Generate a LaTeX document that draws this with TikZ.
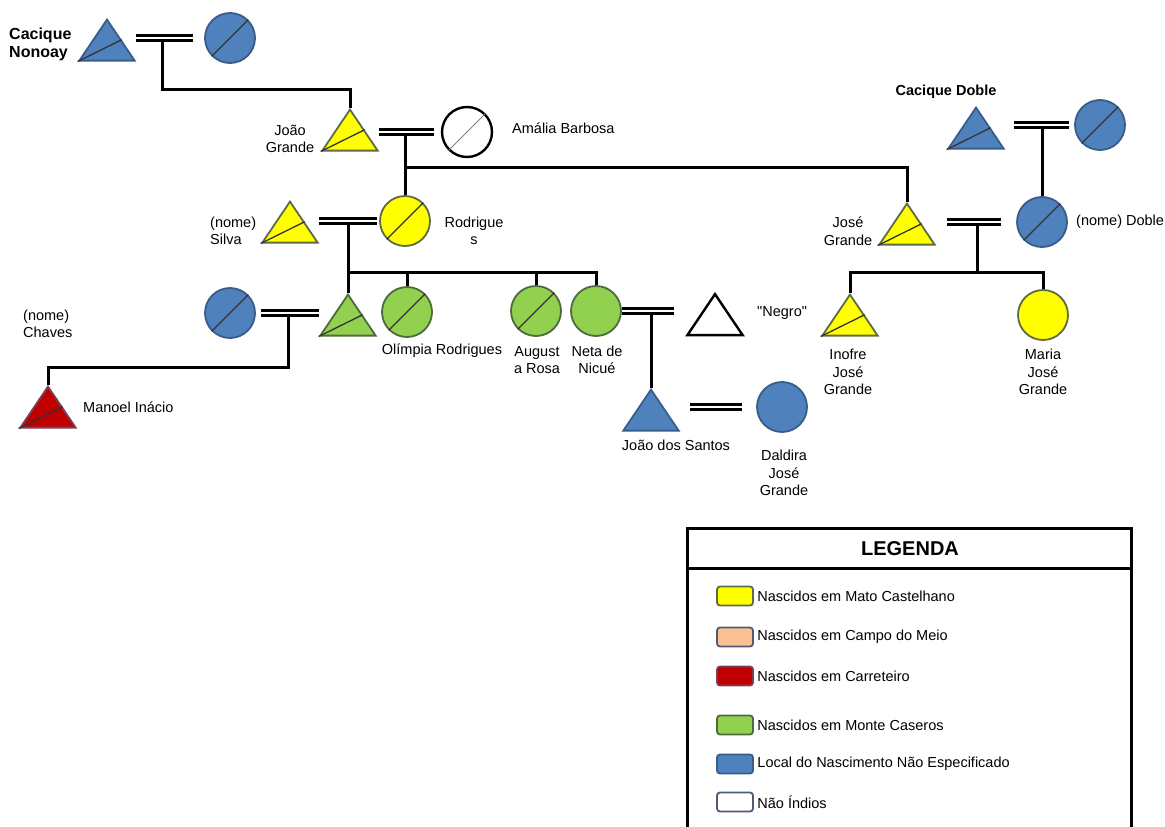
\documentclass[tikz,border=0pt]{standalone}
\usepackage{fontspec}
\setmainfont{Liberation Sans}
\usetikzlibrary{calc, positioning, shapes.geometric}

\definecolor{azul}{HTML}{4F81BD}
\definecolor{azulborda}{HTML}{385D8A}
\definecolor{amarelo}{HTML}{FFFF00}
\definecolor{amareloborda}{HTML}{5F6B45}
\definecolor{verde}{HTML}{92D050}
\definecolor{verdeborda}{HTML}{4E6B3C}
\definecolor{vermelho}{HTML}{C00000}
\definecolor{vermelhoborda}{HTML}{7A3F52}
\definecolor{salmao}{HTML}{FAC090}
\definecolor{cinzaborda}{HTML}{4D5B75}

\newcommand{\lblfont}{\fontsize{14.5}{17.5}\selectfont}

\begin{document}
\begin{tikzpicture}[x=1pt, y=-1pt,
        homem/.style={isosceles triangle, shape border rotate=90, isosceles triangle apex angle=68,
            minimum size=41pt, inner sep=0pt, line width=1.8pt, anchor=apex},
        mulher/.style={circle, minimum size=50pt, inner sep=0pt, line width=1.8pt},
        mato/.style={fill=amarelo, draw=amareloborda},
        carret/.style={fill=vermelho, draw=vermelhoborda},
        monte/.style={fill=verde, draw=verdeborda},
        semlocal/.style={fill=azul, draw=azulborda},
        naoindio/.style={fill=white, draw=black, line width=2.4pt},
        liga/.style={line width=3pt},
        casal/.style={double, line width=3pt, double distance=2.6pt},
        corte/.style={line width=1.3pt, draw=black!80},
        rotulo/.style={align=center, inner sep=1pt},
        chave/.style={rectangle, rounded corners=3pt, minimum width=36pt, minimum height=19pt, line width=1.8pt},
        moldura/.style={line width=3pt}]
        \tikzstyle{every node}=[font=\lblfont]
            \path[use as bounding box, fill=white] (0,0) rectangle (1165,827);

            % pessoas
            \node[homem, semlocal] (nonoai) at (107,18) {};
            \node[mulher, semlocal] (nonoaiesp) at (230,38) {};
            \node[homem, mato] (joao) at (350,108) {};
            \node[mulher, naoindio] (amalia) at (467,132) {};
            \node[homem, mato] (silva) at (290,200) {};
            \node[mulher, mato] (rodrig) at (405,221) {};
            \node[mulher, semlocal] (chaves) at (230,313) {};
            \node[homem, monte] (filho) at (348,293) {};
            \node[mulher, monte] (olimpia) at (407,312) {};
            \node[mulher, monte] (augusta) at (536,311) {};
            \node[mulher, monte] (neta) at (596,311) {};
            \node[homem, naoindio] (negro) at (715,292) {};
            \node[homem, carret] (manoel) at (48,385) {};
            \node[homem, semlocal] (santos) at (651,388) {};
            \node[mulher, semlocal] (daldira) at (782,407) {};
            \node[homem, semlocal] (doble) at (976,106) {};
            \node[mulher, semlocal] (dobleesp) at (1100,125) {};
            \node[homem, mato] (jose) at (907,202) {};
            \node[mulher, semlocal] (dobled) at (1042,222) {};
            \node[homem, mato] (inofre) at (850,293) {};
            \node[mulher, mato] (maria) at (1043,315) {};

            \foreach \p in {nonoai, joao, silva, filho, manoel, doble, jose, inofre}
                \draw[corte] (\p.left corner) -- ($(\p.right corner)!.5!(\p.apex)$);
            \foreach \p in {nonoaiesp, rodrig, chaves, olimpia, augusta, dobleesp, dobled}
                \draw[corte] (\p.225) -- (\p.45);
            \draw[corte, draw=gray, line width=1pt] (amalia.225) -- (amalia.45);

            % casamentos
            \draw[casal, shorten >=11pt] (nonoai.right corner |- nonoaiesp) -- (nonoaiesp);
            \draw[casal, shorten >=7pt] (joao.right corner |- amalia) -- (amalia);
            \draw[casal, shorten >=2pt] (silva.right corner |- rodrig) -- (rodrig);
            \draw[casal, shorten <=5pt] (chaves) -- (filho.left corner |- chaves);
            \draw[casal, shorten >=11pt] (neta) -- (negro.left corner |- neta);
            \draw[casal, shorten <=10pt, shorten >=14pt] (santos.right corner |- daldira) -- (daldira);
            \draw[casal, shorten <=11pt, shorten >=15pt] (jose.right corner |- dobled) -- (dobled);
            \draw[casal, shorten <=9pt, shorten >=5pt] (doble.right corner |- dobleesp) -- (dobleesp);

            \coordinate (c1) at (162,42);
            \coordinate (c2) at (405,136);
            \coordinate (c3) at (348,225);
            \coordinate (c4) at (288,317);
            \coordinate (c5) at (651,315);
            \coordinate (c6) at (977,226);
            \coordinate (c7) at (1042,129);
            \coordinate (r2) at (405,167);
            \coordinate (r3) at (348,272);
            \coordinate (r6) at (977,272);

            % descendencia
            \draw[liga] (c1) |- ([yshift=19pt]joao.apex) -- (joao.apex);
            \draw[liga] (c2) -- (rodrig);
            \draw[liga] (r2) -| (jose.apex);
            \draw[liga] (c3) -- (filho.apex);
            \draw[liga] (r3) -| (neta.north);
            \draw[liga] (olimpia.north |- r3) -- (olimpia.north);
            \draw[liga] (augusta.north |- r3) -- (augusta.north);
            \draw[liga] (c4) |- ([yshift=18pt]manoel.apex) -- (manoel.apex);
            \draw[liga] (c5) -- (santos.apex);
            \draw[liga] (c6) -- (r6);
            \draw[liga] (r6) -| (inofre.apex);
            \draw[liga] (r6) -| (maria.north);
            \draw[liga] (c7) -- (dobled);

            % nomes
            \node[rotulo, font=\bfseries\fontsize{16}{18}\selectfont, align=left, anchor=west] (lnonoai) at (8,44) {Cacique\\Nonoay};
            \node[rotulo, font=\bfseries\lblfont] (ldoble) at (946,92) {Cacique Doble};
            \node[rotulo] (ljoao) at (290,139) {João\\Grande};
            \node[rotulo, anchor=west] (lamalia) at (511,128) {Amália Barbosa};
            \node[rotulo, align=left, anchor=west] (lsilva) at (209,231) {(nome)\\Silva};
            \node[rotulo] (lrodrig) at (474,231) {Rodrigue\\s};
            \node[rotulo, align=left, anchor=west] (lchaves) at (22,324) {(nome)\\Chaves};
            \node[rotulo, anchor=west] (lmanoel) at (82,407) {Manoel Inácio};
            \node[rotulo] (lolimpia) at (442,351) {Olímpia Rodrigues};
            \node[rotulo] (laugusta) at (537,360) {August\\a Rosa};
            \node[rotulo] (lneta) at (597,360) {Neta de\\Nicué};
            \node[rotulo, anchor=west] (lnegro) at (756,313) {\textquotedbl Negro\textquotedbl};
            \node[rotulo] (lsantos) at (676,445) {João dos Santos};
            \node[rotulo] (ldaldira) at (784,473) {Daldira\\José\\Grande};
            \node[rotulo] (linofre) at (848,372) {Inofre\\José\\Grande};
            \node[rotulo] (lmaria) at (1043,372) {Maria\\José\\Grande};
            \node[rotulo] (ljose) at (848,231) {José\\Grande};
            \node[rotulo, anchor=west] (ldobled) at (1075,222) {(nome) Doble};

            % legenda
            \draw[moldura] (687,827) |- (1131,528) -- (1131,827);
            \draw[moldura] (687,568) -- (1131,568);
            \node[font=\bfseries\fontsize{20}{24}\selectfont] (legenda) at (910,549) {LEGENDA};
            \node[chave, fill=amarelo, draw=amareloborda] (k1) at (735,596) {};
            \node[right=0pt of k1] (t1) {Nascidos em Mato Castelhano};
            \node[chave, fill=salmao, draw=cinzaborda] (k2) at (735,637) {};
            \node[right=0pt of k2] (t2) {Nascidos em Campo do Meio};
            \node[chave, fill=vermelho, draw=vermelhoborda] (k3) at (735,676) {};
            \node[right=0pt of k3] (t3) {Nascidos em Carreteiro};
            \node[chave, fill=verde, draw=verdeborda] (k4) at (735,725) {};
            \node[right=0pt of k4] (t4) {Nascidos em Monte Caseros};
            \node[chave, fill=azul, draw=azulborda] (k5) at (735,764) {};
            \node[right=0pt of k5] (t5) {Local do Nascimento Não Especificado};
            \node[chave, fill=white, draw=cinzaborda] (k6) at (735,802) {};
            \node[right=0pt of k6] (t6) {Não Índios};
        \end{tikzpicture}
\end{document}
